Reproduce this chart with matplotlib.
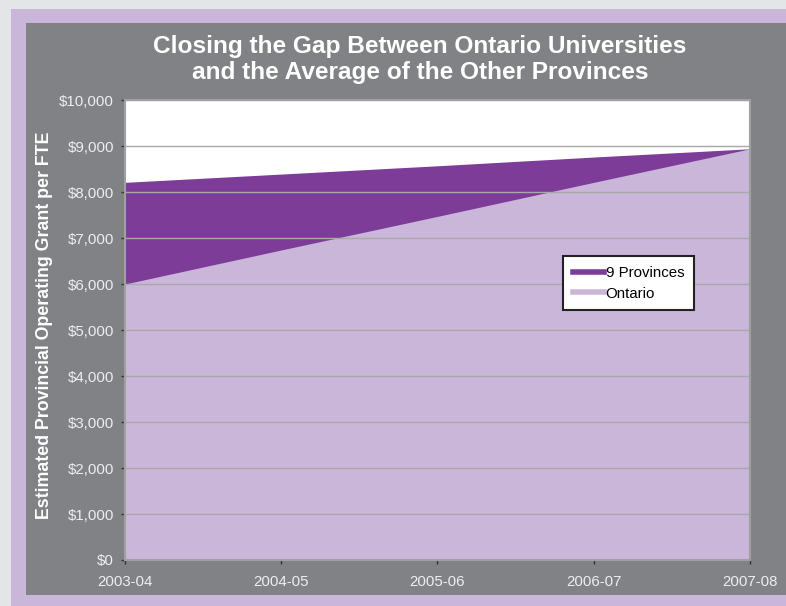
import numpy as np
import matplotlib
matplotlib.use("Agg")
import matplotlib.pyplot as plt
from matplotlib.patches import Rectangle
from matplotlib.ticker import FuncFormatter

# data
years = ["2003-04", "2004-05", "2005-06", "2006-07", "2007-08"]
provinces9 = [8210, 8390, 8570, 8760, 8940]
ontario = [6000, 6740, 7470, 8210, 8940]

PURPLE = "#7d3c98"
LAVENDER = "#c9b6d9"
PANEL = "#818286"

plt.rcParams["font.family"] = ["Liberation Sans", "DejaVu Sans"]

fig = plt.figure(figsize=(7.86, 6.06), dpi=100)
fig.patch.set_facecolor("#e4e5e6")
W, H = 786, 606

# lavender frame and grey panel (pixel coords -> figure fraction)
def px_rect(x0, y0, x1, y1, color):
    fig.patches.append(Rectangle((x0 / W, 1 - y1 / H), (x1 - x0) / W, (y1 - y0) / H,
                                 transform=fig.transFigure, facecolor=color,
                                 edgecolor="none", zorder=-5))

px_rect(11, 9, W, H, LAVENDER)
px_rect(26, 23, W, 595, PANEL)

ax = fig.add_axes([125 / W, 1 - 560 / H, (750 - 125) / W, (560 - 100) / H])
ax.set_facecolor("white")

x = np.arange(len(years))
ax.fill_between(x, 0, provinces9, color=PURPLE, lw=0, label="9 Provinces", zorder=1)
ax.fill_between(x, 0, ontario, color=LAVENDER, lw=0, label="Ontario", zorder=2)

ax.set_xlim(0, len(years) - 1)
ax.set_ylim(0, 10000)
ax.set_yticks(np.arange(0, 10001, 1000))
ax.yaxis.set_major_formatter(FuncFormatter(lambda v, p: "${:,.0f}".format(v)))
ax.set_xticks(x)
ax.set_xticklabels(years)

ax.grid(axis="y", color="#a8a8a8", lw=1, zorder=3)
ax.set_axisbelow(False)
for s in ax.spines.values():
    s.set_color("#a0a0a0")
    s.set_linewidth(1.5)
    s.set_zorder(4)

ax.tick_params(axis="both", colors="#333333", labelcolor="#eeeeee", labelsize=10.8,
               length=3, width=1)
ax.tick_params(axis="x", pad=8)
ax.tick_params(axis="y", pad=5)

ax.set_ylabel("Estimated Provincial Operating Grant per FTE", color="white",
              fontsize=12.8, fontweight="bold")
ax.yaxis.set_label_coords(-(125 - 53) / 625, (560 - 325) / 460)

fig.text(420 / W, 1 - 59.5 / H,
         "Closing the Gap Between Ontario Universities\nand the Average of the Other Provinces",
         ha="center", va="center", color="white", fontsize=17.6, fontweight="bold",
         linespacing=1.2)

# legend uses line handles like the original
h1, = ax.plot([], [], color=PURPLE, lw=4)
h2, = ax.plot([], [], color=LAVENDER, lw=4)
leg = ax.legend([h1, h2], ["9 Provinces", "Ontario"], loc="upper left",
                bbox_to_anchor=((563 - 125) / 625, (560 - 256) / 460),
                borderaxespad=0, frameon=True, fancybox=False, edgecolor="#222222",
                facecolor="white", framealpha=1, fontsize=10.8, handlelength=2.1,
                handletextpad=0.1, borderpad=0.65, labelspacing=0.45)
leg.get_frame().set_linewidth(1.5)

fig.savefig("out.png", dpi=100, facecolor=fig.get_facecolor())
